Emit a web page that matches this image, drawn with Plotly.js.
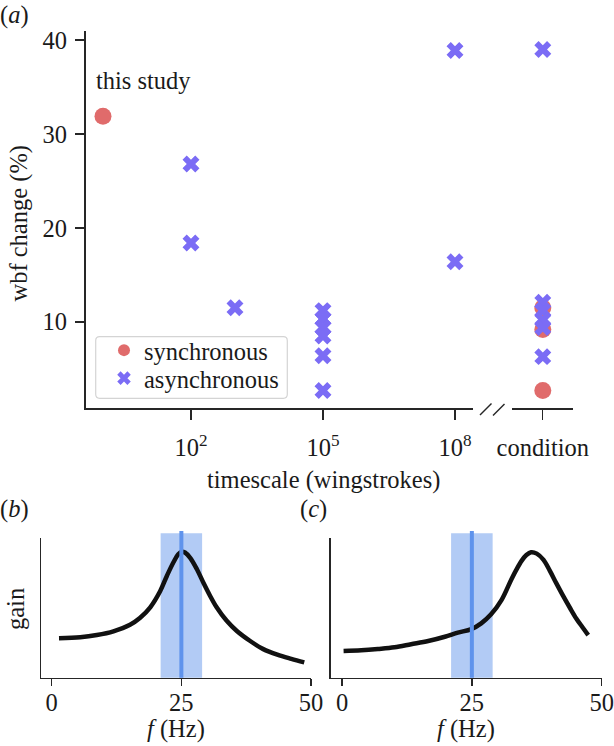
<!DOCTYPE html>
<html>
<head>
<meta charset="utf-8">
<script src="https://cdn.plot.ly/plotly-3.0.1.min.js"></script>
<style>html,body{margin:0;padding:0;background:#fff}#plot{width:614px;height:746px}</style>
</head>
<body>
<div id="plot"></div>
<script>
// ---------------- data ----------------
// panel (a): wbf change (%) vs timescale (wingstrokes)
const syncTimescale = [1];
const syncTimescaleChange = [31.9];
const asyncTimescale = [1e2, 1e2, 1e3, 1e5, 1e5, 1e5, 1e5, 1e5, 1e5, 1e8, 1e8];
const asyncTimescaleChange = [26.8, 18.4, 11.5, 11.2, 10.3, 9.4, 8.5, 6.4, 2.7, 38.9, 16.4];
// panel (a): condition column
const syncCondition = ['condition', 'condition', 'condition'];
const syncConditionChange = [11.5, 9.2, 2.7];
const asyncCondition = ['condition', 'condition', 'condition', 'condition', 'condition', 'condition'];
const asyncConditionChange = [39.0, 12.1, 11.2, 10.2, 9.4, 6.3];
// tick labels
const timescaleTickVals = [1e2, 1e5, 1e8];
const timescaleTickText = ['10<sup>2</sup>', '10<sup>5</sup>', '10<sup>8</sup>'];
const changeTickVals = [10, 20, 30, 40];
const freqTickVals = [0, 25, 50];
// panel (b): resonance at the wingbeat frequency
const freqB = [1.4, 5.5, 8.7, 11.9, 15.1, 17.0, 19.0, 20.9, 22.2, 23.5, 24.4, 25.1, 25.7, 26.7, 28.0, 29.2, 30.5, 31.8, 33.7, 35.7, 38.2, 40.8, 43.5, 46.2, 48.7];
const gainB = [0.283, 0.290, 0.306, 0.333, 0.380, 0.428, 0.505, 0.620, 0.730, 0.830, 0.885, 0.904, 0.898, 0.860, 0.778, 0.685, 0.590, 0.505, 0.410, 0.335, 0.265, 0.205, 0.165, 0.135, 0.110];
// panel (c): resonance above the wingbeat frequency
const freqC = [0.3, 3.7, 6.9, 10.1, 13.3, 16.6, 19.8, 22.3, 24.9, 26.8, 28.7, 30.7, 32.6, 33.5, 34.6, 35.5, 36.4, 37.5, 38.8, 40.0, 41.3, 42.6, 43.9, 45.1, 46.3, 47.4];
const gainC = [0.192, 0.197, 0.206, 0.218, 0.240, 0.263, 0.294, 0.323, 0.349, 0.390, 0.455, 0.557, 0.705, 0.770, 0.840, 0.880, 0.900, 0.890, 0.845, 0.768, 0.675, 0.585, 0.500, 0.425, 0.362, 0.306];
// wingbeat frequency band and centre (Hz)
const wingbeatBand = [21, 29];
const wingbeatFreq = [25];

// ---------------- styling ----------------
const W = 614, H = 746;
const px = v => v / W;
const py = v => 1 - v / H;
const RED = '#e06b6b';
const BLUE = '#7b6cf5';
const AX = '#262626';
const TXT = '#1a1a1a';
const FONT = 'Liberation Serif, Times New Roman, serif';
const FS = 24.5;

const traces = [
  {x: syncTimescale, y: syncTimescaleChange, xaxis: 'x', yaxis: 'y', type: 'scatter', mode: 'markers',
   name: 'synchronous', legend: 'legend', marker: {symbol: 'circle', size: 17, color: RED}},
  {x: asyncTimescale, y: asyncTimescaleChange, xaxis: 'x', yaxis: 'y', type: 'scatter', mode: 'markers',
   name: 'asynchronous', legend: 'legend2', marker: {symbol: 'x', size: 15, color: BLUE}},
  {x: syncCondition, y: syncConditionChange, xaxis: 'x2', yaxis: 'y', type: 'scatter', mode: 'markers',
   name: 'synchronous', showlegend: false, marker: {symbol: 'circle', size: 17, color: RED}},
  {x: asyncCondition, y: asyncConditionChange, xaxis: 'x2', yaxis: 'y', type: 'scatter', mode: 'markers',
   name: 'asynchronous', showlegend: false, marker: {symbol: 'x', size: 15, color: BLUE}},
  {x: freqB, y: gainB, xaxis: 'x3', yaxis: 'y3', type: 'scatter', mode: 'lines', showlegend: false,
   line: {color: '#111111', width: 4.5, shape: 'spline', smoothing: 1}},
  {x: freqC, y: gainC, xaxis: 'x4', yaxis: 'y4', type: 'scatter', mode: 'lines', showlegend: false,
   line: {color: '#111111', width: 4.5, shape: 'spline', smoothing: 1}}
];

const axBase = {
  showline: true, linecolor: AX, linewidth: 1.3, showgrid: false, zeroline: false,
  ticks: 'outside', tickcolor: AX, tickwidth: 1.3,
  tickfont: {family: FONT, size: FS, color: TXT}, fixedrange: true
};

// rounded legend frame
function roundRect(x0, y0, x1, y1, r) {
  const X = v => px(v).toFixed(5), Y = v => py(v).toFixed(5);
  return 'M' + X(x0 + r) + ',' + Y(y0) + ' L' + X(x1 - r) + ',' + Y(y0) +
    ' Q' + X(x1) + ',' + Y(y0) + ' ' + X(x1) + ',' + Y(y0 + r) +
    ' L' + X(x1) + ',' + Y(y1 - r) +
    ' Q' + X(x1) + ',' + Y(y1) + ' ' + X(x1 - r) + ',' + Y(y1) +
    ' L' + X(x0 + r) + ',' + Y(y1) +
    ' Q' + X(x0) + ',' + Y(y1) + ' ' + X(x0) + ',' + Y(y1 - r) +
    ' L' + X(x0) + ',' + Y(y0 + r) +
    ' Q' + X(x0) + ',' + Y(y0) + ' ' + X(x0 + r) + ',' + Y(y0) + ' Z';
}

const shapes = [
  // legend frame
  {type: 'path', xref: 'paper', yref: 'paper', path: roundRect(95.7, 336.7, 287.3, 398.3, 4),
   line: {color: '#d4d4d4', width: 1.2}, fillcolor: 'rgba(255,255,255,0.85)', layer: 'above'},
  // axis break marks
  {type: 'line', xref: 'paper', yref: 'paper', x0: px(480), y0: py(415), x1: px(491.5), y1: py(403.5),
   line: {color: AX, width: 1.5}},
  {type: 'line', xref: 'paper', yref: 'paper', x0: px(493), y0: py(415.5), x1: px(504.5), y1: py(404),
   line: {color: AX, width: 1.5}},
  // wingbeat band, panel (b) and (c)
  {type: 'rect', xref: 'x3', yref: 'paper', x0: wingbeatBand[0], x1: wingbeatBand[1], y0: py(677.7), y1: py(533.3),
   fillcolor: '#b2cbf5', line: {width: 0}, layer: 'below'},
  {type: 'rect', xref: 'x4', yref: 'paper', x0: wingbeatBand[0], x1: wingbeatBand[1], y0: py(677.7), y1: py(533.3),
   fillcolor: '#b2cbf5', line: {width: 0}, layer: 'below'},
  {type: 'line', xref: 'x3', yref: 'paper', x0: wingbeatFreq[0], x1: wingbeatFreq[0], y0: py(677.7), y1: py(531),
   line: {color: '#5f93ec', width: 4}, layer: 'above'},
  {type: 'line', xref: 'x4', yref: 'paper', x0: wingbeatFreq[0], x1: wingbeatFreq[0], y0: py(677.7), y1: py(531),
   line: {color: '#5f93ec', width: 4}, layer: 'above'}
];

const ann = (text, x, y, extra) => Object.assign({
  text: text, xref: 'paper', yref: 'paper', x: px(x), y: py(y), showarrow: false,
  xanchor: 'center', yanchor: 'middle', font: {family: FONT, size: FS, color: TXT}
}, extra || {});

const annotations = [
  ann('(<i>a</i>)', -2, 15, {xanchor: 'left'}),
  ann('this study', 143, 81),
  ann('timescale (wingstrokes)', 323.5, 480),
  ann('wbf change (%)', 18.5, 224, {textangle: -90}),
  ann('(<i>b</i>)', -2, 509, {xanchor: 'left'}),
  ann('(<i>c</i>)', 298, 509, {xanchor: 'left'}),
  ann('gain', 15, 609, {textangle: -90}),
  ann('<i>f</i> (Hz)', 176, 729),
  ann('<i>f</i> (Hz)', 466, 729)
];

const legendBase = {xanchor: 'left', yanchor: 'top', bgcolor: 'rgba(0,0,0,0)', borderwidth: 0,
                    itemsizing: 'constant', font: {family: FONT, size: FS, color: TXT}};

const layout = {
  width: W, height: H, margin: {l: 0, r: 0, t: 0, b: 0},
  paper_bgcolor: '#ffffff', plot_bgcolor: 'rgba(0,0,0,0)',
  font: {family: FONT, size: FS, color: TXT},
  hovermode: false, showlegend: true,
  legend: Object.assign({}, legendBase, {x: px(104), y: py(327.7)}),
  legend2: Object.assign({}, legendBase, {x: px(104), y: py(355.7)}),
  xaxis: Object.assign({}, axBase, {type: 'log', domain: [px(85.7), px(473.3)], range: [-0.393, 8.416], anchor: 'y',
           tickmode: 'array', tickvals: timescaleTickVals, ticktext: timescaleTickText, ticklen: 10, ticklabelstandoff: 7}),
  xaxis2: Object.assign({}, axBase, {type: 'category', domain: [px(512.3), px(573.3)], range: [-0.5, 0.5], anchor: 'y',
           categoryarray: ['condition'], ticklen: 10, ticklabelstandoff: 7}),
  yaxis: Object.assign({}, axBase, {domain: [py(408.3), py(30.7)], range: [0.8, 41], anchor: 'x',
           tickmode: 'array', tickvals: changeTickVals, ticklen: 9.5, ticklabelstandoff: 3}),
  xaxis3: Object.assign({}, axBase, {domain: [px(41), px(311)], range: [-2.07, 50], anchor: 'y3',
           tickmode: 'array', tickvals: freqTickVals, ticklen: 7, ticklabelstandoff: -4}),
  yaxis3: Object.assign({}, axBase, {domain: [py(677.7), py(538.3)], range: [0, 1], anchor: 'x3',
           ticks: '', showticklabels: false}),
  xaxis4: Object.assign({}, axBase, {domain: [px(330.7), px(601.7)], range: [-2.18, 50], anchor: 'y4',
           tickmode: 'array', tickvals: freqTickVals, ticklen: 7, ticklabelstandoff: -4}),
  yaxis4: Object.assign({}, axBase, {domain: [py(677.7), py(538.3)], range: [0, 1], anchor: 'x4',
           ticks: '', showticklabels: false}),
  shapes: shapes,
  annotations: annotations
};

Plotly.newPlot('plot', traces, layout, {displayModeBar: false, staticPlot: true});
</script>
</body>
</html>
